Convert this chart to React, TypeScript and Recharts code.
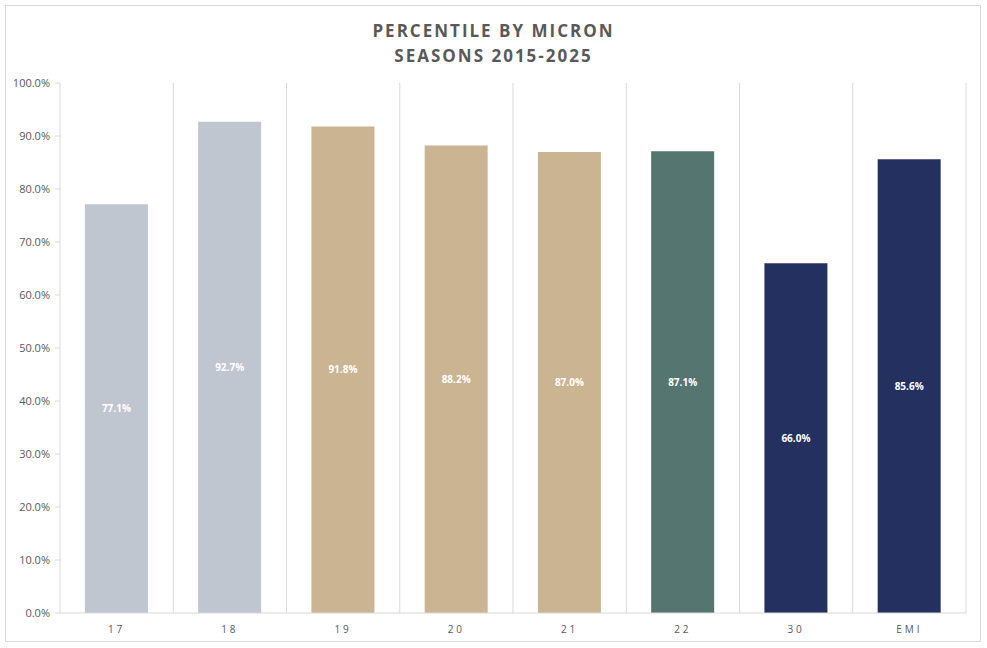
import React from 'react';
import { BarChart, Bar, XAxis, YAxis, CartesianGrid, Cell, LabelList } from 'recharts';

const categories = ['17', '18', '19', '20', '21', '22', '30', 'EMI'];
const values = [77.1, 92.7, 91.8, 88.2, 87.0, 87.1, 66.0, 85.6];
const barColors = ['#BFC6CF', '#BFC6CF', '#CBB491', '#CBB491', '#CBB491', '#557670', '#243060', '#243060'];
const yTicks = [0, 10, 20, 30, 40, 50, 60, 70, 80, 90, 100];
const titleLines = ['PERCENTILE BY MICRON', 'SEASONS 2015-2025'];

const data = categories.map((c, i) => ({ name: c, value: values[i] }));

const XTick = (props: any) => {
  const { x, y, payload } = props;
  return (
    <text x={x} y={y + 12} textAnchor="middle" fill="#595959" fontSize={10}
      fontFamily="'Open Sans', sans-serif" style={{ letterSpacing: '3px' }}>
      {payload.value}
    </text>
  );
};

export default function App() {
  const W = 987;
  const H = 648;
  return (
    <div style={{ position: 'absolute', left: 0, top: 0, width: W, height: H, background: '#fff' }}>
      <div style={{ position: 'absolute', left: 5, top: 5, width: 976, height: 637, border: '1px solid #d9d9d9', boxSizing: 'border-box' }} />
      <div style={{ position: 'absolute', left: 0, top: 18, width: W, textAlign: 'center', color: '#595959',
        fontFamily: "'Open Sans', sans-serif", fontWeight: 700, fontSize: 17, letterSpacing: '2px', lineHeight: '25px' }}>
        {titleLines.map((t) => <div key={t}>{t}</div>)}
      </div>
      <div style={{ position: 'absolute', left: 0, top: 0 }}>
        <BarChart width={W} height={H} data={data} margin={{ top: 83, right: 21, bottom: 5, left: 0 }} barCategoryGap="22%">
          <CartesianGrid horizontal={false} stroke="#d9d9d9"
            verticalCoordinatesGenerator={({ offset }: any) =>
              categories.map((_, i) => offset.left + ((i + 1) * offset.width) / categories.length)} />
          <XAxis dataKey="name" height={30} tick={<XTick />} tickLine={false} axisLine={{ stroke: '#d9d9d9' }} interval={0} />
          <YAxis width={60} domain={[0, 100]} ticks={yTicks} tickSize={5} tickMargin={5}
            tickFormatter={(v: number) => v.toFixed(1) + '%'}
            tick={{ fill: '#595959', fontSize: 11, fontFamily: "'Open Sans', sans-serif" }}
            tickLine={{ stroke: '#d9d9d9' }} axisLine={{ stroke: '#d9d9d9' }} />
          <Bar dataKey="value" isAnimationActive={false}>
            {data.map((d, i) => <Cell key={d.name} fill={barColors[i]} />)}
            <LabelList dataKey="value" position="center" fill="#ffffff" fontSize={10} fontWeight={700}
              fontFamily="'Open Sans', sans-serif"
              formatter={(v: any) => Number(v).toFixed(1) + '%'} />
          </Bar>
        </BarChart>
      </div>
    </div>
  );
}
